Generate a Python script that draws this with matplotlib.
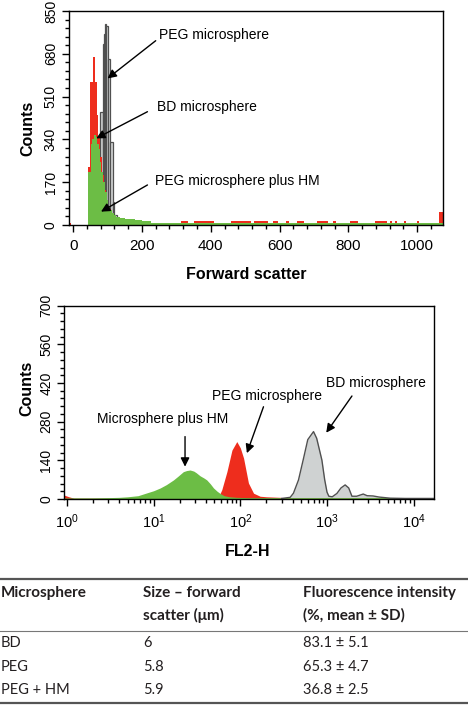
import matplotlib
matplotlib.use('Agg')
import matplotlib.pyplot as plt
from matplotlib.lines import Line2D
from matplotlib.ticker import MultipleLocator, LogLocator, NullFormatter, FixedLocator
import numpy as np

# ---- forward scatter histogram (top panel) ----
bd_edges = [42, 46, 50, 57, 64, 69, 73, 78, 84, 90, 96, 102, 110, 120, 135, 160]
bd_counts = [232, 232, 569, 668, 569, 437, 344, 270, 200, 140, 95, 65, 45, 30, 22]

peg_edges = [76, 79, 86, 89.5, 93, 96.5, 100, 108, 115, 120, 128, 140]
peg_counts = [120, 449, 720, 760, 800, 790, 660, 330, 90, 40, 20]

hm_edges = [43, 51, 56, 61, 66, 70, 74, 78, 82, 87, 92, 97, 102, 107, 114, 118,
            126, 136, 150, 165, 180, 200, 225, 1075]
hm_counts = [212, 320, 340, 357, 350, 320, 300, 251, 212, 172, 132, 99, 73, 60,
             46, 40, 33, 27, 25, 22, 18, 15, 8]

# sparse red events along the baseline
bd_tail_start = [-12, 183, 313, 351, 458, 525, 580, 620, 652, 710, 755, 806, 878, 920, 935, 962, 1000, 1062]
bd_tail_end = [-6, 216, 333, 409, 516, 565, 594, 628, 670, 742, 765, 829, 913, 928, 942, 968, 1004, 1075]
bd_tail_counts = [9, 15, 15, 15, 15, 15, 15, 15, 15, 15, 15, 15, 15, 15, 15, 15, 15, 53]

# ---- FL2-H histogram (bottom panel) ----
fl_hm_x = [0.93, 2, 3, 4, 5, 6.6, 8.3, 10, 11.9, 14, 16.9, 19, 22, 24, 26.3, 29, 31,
           34.3, 38, 41, 45, 49, 54, 58.5, 65, 75, 90, 120, 200, 17400]
fl_hm_y = [4, 4, 5, 6, 8, 12, 22, 30, 40, 52, 69, 82, 99, 103, 105, 101, 95, 84,
           76, 69, 55, 40, 28, 20, 12, 8, 6, 5, 5, 5]

fl_peg_x = [0.93, 1.05, 1.2, 50, 56, 61, 70, 80, 91, 100, 109, 124, 142, 169, 200, 290, 400, 17400]
fl_peg_y = [14, 8, 3, 3, 8, 33, 99, 177, 208, 185, 148, 58, 21, 10, 8, 6, 3, 3]

fl_bd_x = [300, 376, 410, 469, 536, 600, 699, 760, 873, 940, 1000, 1050, 1150, 1300, 1450,
           1620, 1780, 1940, 2200, 2620, 2900, 3400, 4000, 5370, 8000, 17400]
fl_bd_y = [2, 6, 21, 69, 147, 215, 244, 220, 141, 70, 25, 10, 8, 20, 40, 51, 40, 10, 10,
           18, 12, 11, 7, 3, 2, 2]

fsc_ticks = [0, 200, 400, 600, 800, 1000]
fl_ticks = [1, 10, 100, 1000, 10000]
fl_ticklabels = ['10$^0$', '10$^1$', '10$^2$', '10$^3$', '10$^4$']

# ---- table ----
table_header1 = ['Microsphere', 'Size \u2013 forward', 'Fluorescence intensity']
table_header2 = ['', 'scatter (\u03bcm)', '(%, mean \u00b1 SD)']
table_names = ['BD', 'PEG', 'PEG + HM']
table_size = ['6', '5.8', '5.9']
table_fluor = ['83.1 \u00b1 5.1', '65.3 \u00b1 4.7', '36.8 \u00b1 2.5']

red = '#ee2d1d'
green = '#6cbd45'
gray_fill = '#cfd2d2'
gray_edge = '#505050'

plt.rcParams['font.family'] = ['Liberation Sans', 'DejaVu Sans']
plt.rcParams['mathtext.fontset'] = 'custom'
plt.rcParams['mathtext.rm'] = 'Liberation Sans'
plt.rcParams['mathtext.it'] = 'Liberation Sans:italic'

W, H = 468, 706
fig = plt.figure(figsize=(W / 100, H / 100), dpi=100)


def px_axes(l, t, r, b):
    return fig.add_axes([l / W, 1 - b / H, (r - l) / W, (b - t) / H])


def style_axes(ax, xsize):
    for s in ax.spines.values():
        s.set_linewidth(1.0)
        s.set_color('black')
    ax.tick_params(which='major', direction='out', length=5, width=1.0, pad=3)
    ax.tick_params(which='minor', direction='out', length=3, width=1.0)
    ax.tick_params(axis='x', labelsize=xsize, pad=5)
    for lbl in ax.get_yticklabels():
        lbl.set_rotation(90)
        lbl.set_va('center')
        lbl.set_fontsize(10)


# top panel
ax1 = px_axes(69, 11, 443, 225)
ax1.bar(peg_edges[:-1], peg_counts, width=np.diff(peg_edges), align='edge',
        facecolor=gray_fill, edgecolor=gray_edge, linewidth=0.9)
ax1.stairs(bd_counts, bd_edges, fill=True, color=red, linewidth=0)
ax1.bar(bd_tail_start, bd_tail_counts, width=np.array(bd_tail_end) - np.array(bd_tail_start),
        align='edge', color=red, linewidth=0)
ax1.stairs(hm_counts, hm_edges, fill=True, color=green, linewidth=0)
ax1.set_xlim(-12, 1075)
ax1.set_ylim(0, 850)
ax1.set_xticks(fsc_ticks)
ax1.xaxis.set_minor_locator(MultipleLocator(40))
ax1.yaxis.set_major_locator(MultipleLocator(170))
ax1.yaxis.set_minor_locator(MultipleLocator(34))
style_axes(ax1, 11)

arrow = dict(arrowstyle='-|>', color='black', lw=1.0, mutation_scale=13, shrinkA=0, shrinkB=0)
ax1.text(250, 755, 'PEG microsphere', fontsize=10, va='center')
ax1.annotate('', xy=(100, 582), xytext=(240, 732), arrowprops=arrow)
ax1.text(245, 467, 'BD microsphere', fontsize=10, va='center')
ax1.annotate('', xy=(67, 344), xytext=(216, 450), arrowprops=arrow)
ax1.text(238, 176, 'PEG microsphere plus HM', fontsize=10, va='center')
ax1.annotate('', xy=(81, 53), xytext=(216, 159), arrowprops=arrow)

fig.text(28 / W, 1 - 128 / H, 'Counts', rotation=90, fontsize=11.5, fontweight='bold',
         ha='center', va='center')
fig.text(246 / W, 1 - 274 / H, 'Forward scatter', fontsize=11.5, fontweight='bold',
         ha='center', va='center')

# bottom panel
ax2 = px_axes(64.3, 305.7, 434.5, 499)
ax2.set_xscale('log')
ax2.fill_between(fl_bd_x, fl_bd_y, color=gray_fill, linewidth=0)
ax2.plot(fl_bd_x, fl_bd_y, color=gray_edge, lw=1.0)
ax2.fill_between(fl_peg_x, fl_peg_y, color=red, linewidth=0)
ax2.fill_between(fl_hm_x, fl_hm_y, color=green, linewidth=0)
ax2.set_xlim(0.93, 17400)
ax2.set_ylim(0, 700)
ax2.xaxis.set_major_locator(FixedLocator(fl_ticks))
ax2.set_xticklabels(fl_ticklabels)
ax2.xaxis.set_minor_locator(LogLocator(base=10, subs=np.arange(2, 10)))
ax2.xaxis.set_minor_formatter(NullFormatter())
ax2.yaxis.set_major_locator(MultipleLocator(140))
ax2.yaxis.set_minor_locator(MultipleLocator(28))
style_axes(ax2, 10.5)

ax2.text(2.2, 289, 'Microsphere plus HM', fontsize=10, va='center')
ax2.annotate('', xy=(23, 117), xytext=(23, 226), arrowprops=arrow)
ax2.text(47, 373, 'PEG microsphere', fontsize=10, va='center')
ax2.annotate('', xy=(119, 166), xytext=(185, 334), arrowprops=arrow)
ax2.text(980, 419, 'BD microsphere', fontsize=10, va='center')
ax2.annotate('', xy=(980, 240), xytext=(1940, 373), arrowprops=arrow)

fig.text(27 / W, 1 - 388 / H, 'Counts', rotation=90, fontsize=11.5, fontweight='bold',
         ha='center', va='center')
fig.text(248 / W, 1 - 551 / H, 'FL2-H', fontsize=11.5, fontweight='bold',
         ha='center', va='center')

# table
tfont = ['Lato', 'DejaVu Sans']
tcol = '#231f20'
for y, lw, c in [(579, 1.6, '#555555'), (631, 0.8, '#777777'), (703, 1.6, '#555555')]:
    fig.add_artist(Line2D([0, 1], [1 - y / H] * 2, transform=fig.transFigure, color=c, lw=lw))

col_x = [1, 143, 303]
for i in range(3):
    fig.text(col_x[i] / W, 1 - 593 / H, table_header1[i], family=tfont, fontsize=11,
             fontweight='bold', color=tcol, va='center')
    fig.text(col_x[i] / W, 1 - 615 / H, table_header2[i], family=tfont, fontsize=11,
             fontweight='bold', color=tcol, va='center')
row_y = [643, 667, 690]
for j in range(3):
    fig.text(col_x[0] / W, 1 - row_y[j] / H, table_names[j], family=tfont, fontsize=10.5,
             color=tcol, va='center')
    fig.text(col_x[1] / W, 1 - row_y[j] / H, table_size[j], family=tfont, fontsize=10.5,
             color=tcol, va='center')
    fig.text(col_x[2] / W, 1 - row_y[j] / H, table_fluor[j], family=tfont, fontsize=10.5,
             color=tcol, va='center')

fig.savefig('out.png', dpi=100)
